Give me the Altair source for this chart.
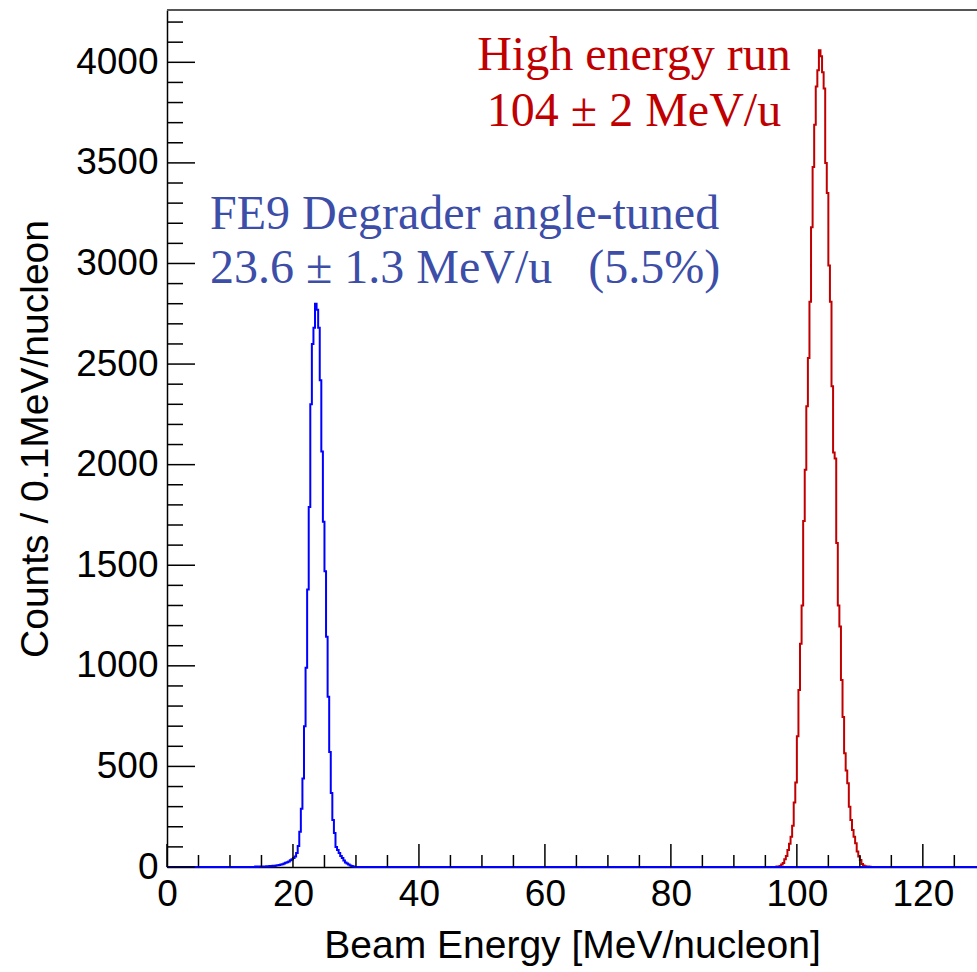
import altair as alt
import pandas as pd

# ---------------- data ----------------
BIN_W = 0.25  # MeV/nucleon per drawn step

# FE9 degrader angle-tuned run (blue): first bin starts at 14.0
blue_start = 14.0
blue_counts = [3, 0, 2, 1, 2, 3, 2, 4, 3, 5, 4, 6, 5, 7, 9, 10,
               12, 14, 18, 21, 24, 27, 33, 38, 45, 52, 70, 105, 175, 290, 440, 700,
               990, 1380, 1790, 2300, 2600, 2680, 2800, 2770, 2680, 2420, 2065, 1716, 1470, 1144, 846, 572,
               368, 234, 169, 100, 85, 70, 55, 45, 32, 22, 17, 12, 8, 5, 2, 0]

# High energy run (red): first bin starts at 96.5
red_start = 96.5
red_counts = [0, 2, 3, 5, 12, 20, 38, 55, 85, 115, 150, 205, 320, 420, 650, 880,
              1110, 1300, 1720, 1975, 2290, 2530, 2810, 3180, 3480, 3690, 3880, 3960, 4060, 4030, 3950, 3870,
              3500, 3350, 2990, 2810, 2390, 2060, 2030, 1610, 1300, 1195, 930, 746, 565, 480, 416, 300,
              234, 184, 150, 118, 77, 52, 35, 15, 8, 4, 3, 2, 1, 0]

x_major = [0, 20, 40, 60, 80, 100, 120]
x_minor = [v for v in range(5, 130, 5) if v % 20 != 0]
y_major = [0, 500, 1000, 1500, 2000, 2500, 3000, 3500, 4000]
y_minor = [v for v in range(100, 4300, 100) if v % 500 != 0]

blue_label = ["FE9 Degrader angle-tuned", "23.6 \u00b1 1.3 MeV/u \u00a0\u00a0(5.5%)"]
red_label = ["High energy run", "104 \u00b1 2 MeV/u"]

X_MAX = 128.6
Y_MAX = 4260

# ---------------- layout ----------------
W, H = 810, 857
SANS = "Liberation Sans"
SERIF = "Liberation Serif"

xs = alt.Scale(domain=[0, X_MAX], nice=False, zero=False)
ys = alt.Scale(domain=[0, Y_MAX], nice=False, zero=False)

x_axis = alt.Axis(values=x_major, format="d", tickSize=0, labelPadding=9,
                  labelFontSize=37, labelFont=SANS, labelColor="black",
                  title="Beam Energy [MeV/nucleon]", titleFont=SANS, titleFontSize=39,
                  titleFontWeight="normal", titleColor="black", titlePadding=14,
                  domainColor="black", domainWidth=1.5, grid=False, labelFlush=False,
                  labelOverlap=False)
y_axis = alt.Axis(values=y_major, format="d", tickSize=0, labelPadding=9,
                  labelFontSize=37, labelFont=SANS, labelColor="black",
                  title="Counts / 0.1MeV/nucleon", titleFont=SANS, titleFontSize=39,
                  titleFontWeight="normal", titleColor="black", titlePadding=20,
                  domainColor="black", domainWidth=1.5, grid=False, labelFlush=False,
                  labelOverlap=False)

def X(field="e"):
    return alt.X(f"{field}:Q", scale=xs, axis=x_axis)

def Y(field="c"):
    return alt.Y(f"{field}:Q", scale=ys, axis=y_axis)

def steps(start, counts, lead_from=None, tail_to=None):
    e = [start + i * BIN_W for i in range(len(counts))]
    c = list(counts)
    end = start + len(counts) * BIN_W
    e.append(end); c.append(0)
    if lead_from is not None:
        e = [lead_from] + e; c = [0] + c
    if tail_to is not None:
        e.append(tail_to); c.append(0)
    return pd.DataFrame({"e": e, "c": c})

blue_df = steps(blue_start, blue_counts, lead_from=0.0, tail_to=X_MAX)
red_df = steps(red_start, red_counts)

red = alt.Chart(red_df).mark_line(interpolate="step-after", color="#c00000",
                                  strokeWidth=2, clip=False).encode(x=X(), y=Y())
blue = alt.Chart(blue_df).mark_line(interpolate="step-after", color="#0000ff",
                                    strokeWidth=2, clip=False).encode(x=X(), y=Y())

xmaj = alt.Chart(pd.DataFrame({"e": x_major})).mark_rule(color="black", strokeWidth=1.5).encode(
    x=X(), y=alt.value(H), y2=alt.value(H - 23))
xmin = alt.Chart(pd.DataFrame({"e": x_minor})).mark_rule(color="black", strokeWidth=1.5).encode(
    x=X(), y=alt.value(H), y2=alt.value(H - 12))
ymaj = alt.Chart(pd.DataFrame({"c": y_major})).mark_rule(color="black", strokeWidth=1.5).encode(
    y=Y(), x=alt.value(0), x2=alt.value(28))
ymin = alt.Chart(pd.DataFrame({"c": y_minor})).mark_rule(color="black", strokeWidth=1.5).encode(
    y=Y(), x=alt.value(0), x2=alt.value(16))

border = alt.Chart(pd.DataFrame({"k": [0]})).mark_rule(color="#555555", strokeWidth=2).encode(
    x=alt.value(0), x2=alt.value(W), y=alt.value(0))

def label(text, color, x, y, align):
    return alt.Chart(pd.DataFrame({"t": [text]})).mark_text(
        font=SERIF, fontSize=48, color=color, align=align, baseline="alphabetic").encode(
        text="t:N", x=alt.value(x), y=alt.value(y))

texts = [
    label(red_label[0], "#c00000", 467, 60, "center"),
    label(red_label[1], "#c00000", 467, 116, "center"),
    label(blue_label[0], "#3c4ea8", 43, 219, "left"),
    label(blue_label[1], "#3c4ea8", 43, 273, "left"),
]

chart = alt.layer(red, blue, xmaj, xmin, ymaj, ymin, border, *texts).properties(
    width=W, height=H,
    padding={"left": 167, "top": 10, "right": 0, "bottom": 105},
    autosize=alt.AutoSizeParams(type="none"),
    background="white",
).configure_view(stroke=None)

chart.save("out.html", embed_options={"renderer": "svg", "actions": False})
